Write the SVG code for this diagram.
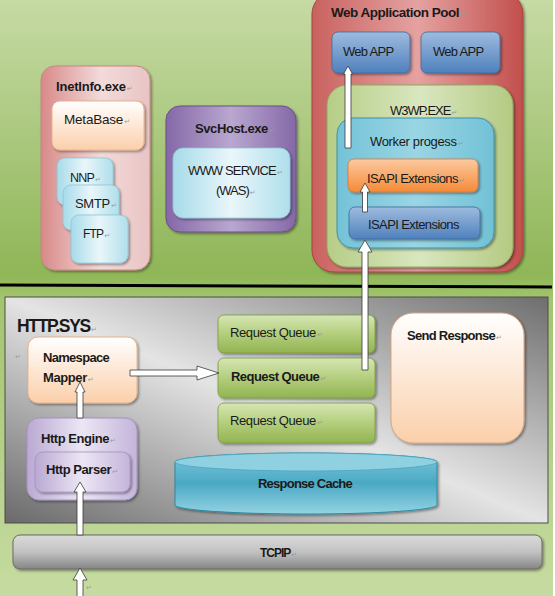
<svg xmlns="http://www.w3.org/2000/svg" width="555" height="596" viewBox="0 0 555 596">
<defs>
<linearGradient id="bg" x1="0" y1="0" x2="0" y2="1">
<stop offset="0" stop-color="#c6daa4"/><stop offset="0.46" stop-color="#8fb657"/><stop offset="0.5" stop-color="#a2c56e"/><stop offset="1" stop-color="#c6dba1"/>
</linearGradient>
<linearGradient id="gPink" x1="0" y1="0" x2="1" y2="0">
<stop offset="0" stop-color="#d78a88"/><stop offset="0.55" stop-color="#f3dada"/><stop offset="1" stop-color="#e9c4c4"/>
</linearGradient>
<linearGradient id="gRed" x1="0" y1="0" x2="1" y2="0">
<stop offset="0" stop-color="#c9625f"/><stop offset="0.5" stop-color="#e4a2a1"/><stop offset="1" stop-color="#c24f4c"/>
</linearGradient>
<linearGradient id="gOlive" x1="0" y1="0" x2="1" y2="0">
<stop offset="0" stop-color="#b6cd86"/><stop offset="0.5" stop-color="#d9e7bf"/><stop offset="1" stop-color="#b3ca82"/>
</linearGradient>
<linearGradient id="gCyan" x1="0" y1="0" x2="1" y2="0">
<stop offset="0" stop-color="#74c2d8"/><stop offset="0.5" stop-color="#9ad5e4"/><stop offset="1" stop-color="#72c1d6"/>
</linearGradient>
<linearGradient id="gBlue" x1="0" y1="0" x2="0" y2="1">
<stop offset="0" stop-color="#9ebbde"/><stop offset="1" stop-color="#4f81bd"/>
</linearGradient>
<linearGradient id="gOrange" x1="0" y1="0" x2="0" y2="1">
<stop offset="0" stop-color="#fccaa0"/><stop offset="1" stop-color="#f58a38"/>
</linearGradient>
<linearGradient id="gPurple" x1="0" y1="0" x2="1" y2="0">
<stop offset="0" stop-color="#8568a7"/><stop offset="0.5" stop-color="#b9a7d0"/><stop offset="1" stop-color="#8568a7"/>
</linearGradient>
<linearGradient id="gIce" x1="0" y1="0" x2="1" y2="0">
<stop offset="0" stop-color="#a6dbe9"/><stop offset="0.5" stop-color="#eaf6fa"/><stop offset="1" stop-color="#afdfeb"/>
</linearGradient>
<linearGradient id="gPeach" x1="0" y1="0" x2="0" y2="1">
<stop offset="0" stop-color="#ffffff"/><stop offset="1" stop-color="#fbcfaa"/>
</linearGradient>
<linearGradient id="gLav" x1="0" y1="0" x2="1" y2="0">
<stop offset="0" stop-color="#baa9d3"/><stop offset="0.5" stop-color="#ece6f4"/><stop offset="1" stop-color="#c4b5da"/>
</linearGradient>
<linearGradient id="gLime" x1="0" y1="0" x2="0" y2="1">
<stop offset="0" stop-color="#d6e6b4"/><stop offset="0.5" stop-color="#b3ce7c"/><stop offset="1" stop-color="#92b451"/>
</linearGradient>
<linearGradient id="gCache" x1="0" y1="0" x2="0" y2="1">
<stop offset="0" stop-color="#7cc6da"/><stop offset="0.5" stop-color="#4aa9c4"/><stop offset="1" stop-color="#94d3e3"/>
</linearGradient>
<linearGradient id="gPanel" x1="0" y1="1" x2="1" y2="0">
<stop offset="0" stop-color="#6a6a6a"/><stop offset="0.5" stop-color="#e4e4e4"/><stop offset="1" stop-color="#6e6e6e"/>
</linearGradient>
<linearGradient id="gTcp" x1="0" y1="0" x2="0" y2="1">
<stop offset="0" stop-color="#dadada"/><stop offset="0.5" stop-color="#c2c2c2"/><stop offset="1" stop-color="#858585"/>
</linearGradient>
<filter id="sh" x="-10%" y="-10%" width="125%" height="130%">
<feDropShadow dx="1.5" dy="1.5" stdDeviation="1" flood-color="#000" flood-opacity="0.4"/>
</filter>
</defs>
<style>
text{font-family:"Liberation Sans","DejaVu Sans",Arial,sans-serif;font-size:13px;fill:#1a1a1a}
.b{font-weight:bold}
.rm{fill:#9a9a9a;font-size:7px;font-weight:normal;font-family:"DejaVu Sans",sans-serif;letter-spacing:0}
.box{filter:url(#sh)}
.arrow{fill:#ffffff;stroke:#3a3a3a;stroke-width:0.8}
</style>

<rect x="0" y="0" width="553" height="596" fill="url(#bg)"/>
<rect x="553" y="0" width="2" height="596" fill="#ffffff"/>
<path d="M0,285 L552,287" stroke="#000" stroke-width="3" fill="none"/>

<g id="inetinfo">
<rect class="box" x="41" y="66" width="109" height="204" rx="14" fill="url(#gPink)" stroke="#c98686" stroke-width="1"/>
<text class="b" x="56" y="91" letter-spacing="-0.2">InetInfo.exe<tspan class="rm" dx="1">↵</tspan></text>
</g>
<g id="metabase">
<rect class="box" x="52" y="101" width="92" height="49" rx="8" fill="url(#gPeach)" stroke="#e7b48c" stroke-width="1"/>
<text x="64" y="124" style="font-size:13.5px" letter-spacing="-0.2">MetaBase<tspan class="rm" dx="1">↵</tspan></text>
</g>
<g id="nnp">
<rect class="box" x="57" y="158" width="56" height="47" rx="8" fill="url(#gIce)" stroke="#8fc7d6" stroke-width="0.8"/>
<text x="70" y="182" style="font-size:12.5px" letter-spacing="-0.8">NNP<tspan class="rm" dx="1">↵</tspan></text>
</g>
<g id="smtp">
<rect class="box" x="63" y="185" width="56" height="45" rx="8" fill="url(#gIce)" stroke="#8fc7d6" stroke-width="0.8"/>
<text x="75" y="208" letter-spacing="-0.3">SMTP<tspan class="rm" dx="1">↵</tspan></text>
</g>
<g id="ftp">
<rect class="box" x="71" y="215" width="57" height="48" rx="8" fill="url(#gIce)" stroke="#8fc7d6" stroke-width="0.8"/>
<text x="83" y="238" style="font-size:12px" letter-spacing="-0.8">FTP<tspan class="rm" dx="1">↵</tspan></text>
</g>

<g id="svchost">
<rect class="box" x="166" y="106" width="130" height="126" rx="14" fill="url(#gPurple)" stroke="#6a5089" stroke-width="1"/>
<text class="b" x="195" y="133" letter-spacing="-0.4">SvcHost.exe<tspan class="rm" dx="1">↵</tspan></text>
</g>
<g id="wwwservice">
<rect class="box" x="173" y="148" width="117" height="70" rx="10" fill="url(#gIce)" stroke="#8fc7d6" stroke-width="0.8"/>
<text x="188" y="175" letter-spacing="-0.85">WWW SERVICE<tspan class="rm" dx="1">↵</tspan></text>
<text x="216" y="195" letter-spacing="-1">(WAS)<tspan class="rm" dx="1">↵</tspan></text>
</g>

<g id="webapppool">
<rect class="box" x="312" y="-8" width="211" height="280" rx="22" fill="url(#gRed)" stroke="#a84340" stroke-width="1"/>
<text class="b" x="331" y="17" style="font-size:13.5px" letter-spacing="-0.5">Web Application Pool<tspan class="rm" dx="1">↵</tspan></text>
</g>
<g id="webapp1">
<rect class="box" x="332" y="32" width="78" height="41" rx="6" fill="url(#gBlue)" stroke="#3f6a9c" stroke-width="0.8"/>
<text x="343" y="56" letter-spacing="-0.7" fill="#142844">Web APP</text>
</g>
<g id="webapp2">
<rect class="box" x="421" y="32" width="79" height="41" rx="6" fill="url(#gBlue)" stroke="#3f6a9c" stroke-width="0.8"/>
<text x="433" y="56" letter-spacing="-0.7" fill="#142844">Web APP</text>
</g>
<g id="w3wp">
<rect class="box" x="327" y="85" width="186" height="182" rx="20" fill="url(#gOlive)" stroke="#8eab5c" stroke-width="1"/>
<text x="390" y="115" letter-spacing="-1">W3WP.EXE<tspan class="rm" dx="1">↵</tspan></text>
</g>
<g id="worker">
<rect class="box" x="337" y="118" width="157" height="130" rx="16" fill="url(#gCyan)" stroke="#3f93ab" stroke-width="1"/>
<text x="370" y="146" letter-spacing="-0.35">Worker progess<tspan class="rm" dx="1">↵</tspan></text>
</g>
<g id="isapi-orange">
<rect class="box" x="348" y="159" width="130" height="33" rx="6" fill="url(#gOrange)" stroke="#d7793a" stroke-width="0.8"/>
<text x="367" y="183" letter-spacing="-0.6">ISAPI Extensions<tspan class="rm" dx="1">↵</tspan></text>
</g>
<g id="isapi-blue">
<rect class="box" x="349" y="207" width="131" height="32" rx="6" fill="url(#gBlue)" stroke="#3f6a9c" stroke-width="0.8"/>
<text x="368" y="229" letter-spacing="-0.6" fill="#142844">ISAPI Extensions</text>
</g>

<g id="httpsys">
<rect x="5" y="297" width="543" height="226" fill="url(#gPanel)" stroke="#4d4d4d" stroke-width="1"/>
<text class="b" x="17" y="332" style="font-size:17.5px" letter-spacing="-1.3">HTTP.SYS<tspan class="rm" dx="1">↵</tspan></text>
<text class="rm" x="15" y="359">↵</text>
</g>
<g id="namespace">
<rect class="box" x="28" y="337" width="109" height="66" rx="10" fill="url(#gPeach)" stroke="#e7b48c" stroke-width="1"/>
<text class="b" x="43" y="362" letter-spacing="-0.7">Namespace</text>
<text class="b" x="43" y="382" letter-spacing="-0.4">Mapper<tspan class="rm" dx="1">↵</tspan></text>
</g>
<g id="httpengine">
<rect class="box" x="27" y="418" width="110" height="82" rx="12" fill="url(#gLav)" stroke="#a593c2" stroke-width="1"/>
<text class="b" x="41" y="443" letter-spacing="-0.45">Http Engine<tspan class="rm" dx="1">↵</tspan></text>
</g>
<g id="httpparser">
<rect class="box" x="35" y="452" width="95" height="40" rx="8" fill="url(#gLav)" stroke="#a593c2" stroke-width="0.8"/>
<text class="b" x="46" y="474" letter-spacing="-0.45">Http Parser<tspan class="rm" dx="1">↵</tspan></text>
</g>
<g id="rq1">
<rect class="box" x="218" y="315" width="157" height="38" rx="6" fill="url(#gLime)" stroke="#7a9a40" stroke-width="0.8"/>
<text x="230" y="337" letter-spacing="-0.4" fill="#2e3a1a">Request Queue<tspan class="rm" dx="1">↵</tspan></text>
</g>
<g id="rq2">
<rect class="box" x="218" y="358" width="157" height="40" rx="6" fill="url(#gLime)" stroke="#7a9a40" stroke-width="0.8"/>
<text class="b" x="231" y="381" letter-spacing="-0.55">Request Queue<tspan class="rm" dx="1">↵</tspan></text>
</g>
<g id="rq3">
<rect class="box" x="218" y="403" width="157" height="40" rx="6" fill="url(#gLime)" stroke="#7a9a40" stroke-width="0.8"/>
<text x="230" y="425" letter-spacing="-0.4" fill="#2e3a1a">Request Queue<tspan class="rm" dx="1">↵</tspan></text>
</g>
<g id="sendresponse">
<rect class="box" x="391" y="313" width="133" height="130" rx="22" fill="url(#gPeach)" stroke="#d9a682" stroke-width="1"/>
<text class="b" x="407" y="340" letter-spacing="-0.73">Send Response<tspan class="rm" dx="1">↵</tspan></text>
</g>
<g id="responsecache">
<path class="box" d="M175,462 A131,9 0 0 1 437,462 V505 A131,9 0 0 1 175,505 Z" fill="url(#gCache)" stroke="#2f8aa3" stroke-width="1"/>
<ellipse cx="306" cy="462" rx="131" ry="9" fill="#8fd0e1" stroke="#4ba6bf" stroke-width="0.8"/>
<text class="b" x="258" y="488" letter-spacing="-0.77" fill="#17324a">Response Cache<tspan class="rm" dx="1">↵</tspan></text>
</g>
<g id="tcpip">
<rect class="box" x="13" y="535" width="529" height="34" rx="7" fill="url(#gTcp)" stroke="#6a6a6a" stroke-width="1"/>
<text class="b" x="260" y="557" style="font-size:12px" letter-spacing="-1">TCPIP<tspan class="rm" dx="1">↵</tspan></text>
</g>

<g id="connectors">
<path class="arrow" d="M345,148 V74 H343.5 L348,66 L352.5,74 H351 V148 Z"/>
<path class="arrow" d="M362.5,212 V192 H360 L365,183 L370,192 H367.5 V212 Z"/>
<path class="arrow" d="M362,370 V252 H358 L365,240 L372,252 H368 V370 Z"/>
<path class="arrow" d="M77,418 V392 H75 L80,382 L85,392 H83 V418 Z"/>
<path class="arrow" d="M77,535 V492 H74 L80,482 L86,492 H83 V535 Z"/>
<path class="arrow" d="M77,597 V580 H73 L80,568 L87,580 H83 V597 Z"/>
<path class="arrow" d="M130,370 H197 V366 L219,373 L197,380 V376 H130 Z"/>
</g>
<text class="rm" x="86" y="590">↵</text>
</svg>
